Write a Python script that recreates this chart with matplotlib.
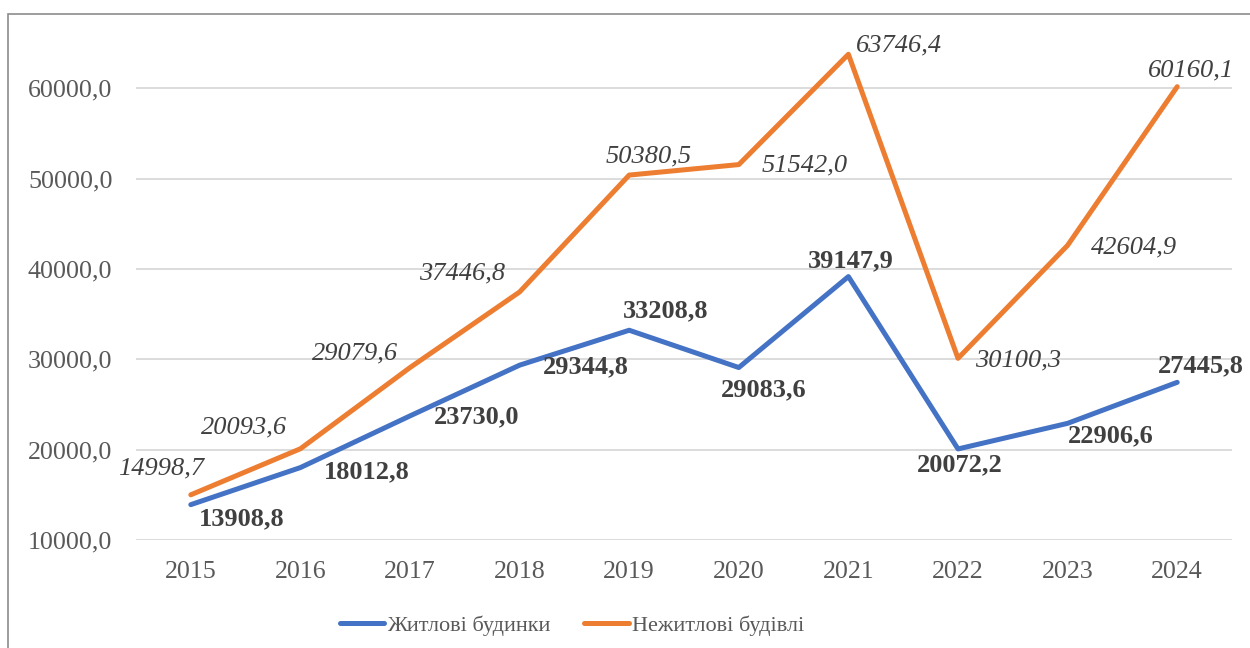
import matplotlib
matplotlib.use("Agg")
import matplotlib.pyplot as plt
from matplotlib.patches import Rectangle

# ── Data ─────────────────────────────────────────────────────────────────────

years = ["2015", "2016", "2017", "2018", "2019", "2020", "2021", "2022", "2023", "2024"]
residential = [13908.8, 18012.8, 23730.0, 29344.8, 33208.8, 29083.6, 39147.9, 20072.2, 22906.6, 27445.8]
nonresidential = [14998.7, 20093.6, 29079.6, 37446.8, 50380.5, 51542.0, 63746.4, 30100.3, 42604.9, 60160.1]
series_names = ["Житлові будинки", "Нежитлові будівлі"]
y_ticks = [10000, 20000, 30000, 40000, 50000, 60000]

# label offsets in pixels (dx, dy) relative to each point
res_offsets = [(51, -14), (66, -4), (67, -1), (66, -2), (36, 19), (25, -22), (2, 16), (2, -16), (43, -12), (24, 17)]
nonres_offsets = [(-30, 26), (-56, 21), (-55, 14), (-57, 18), (19, 19), (66, -1), (51, 9), (60, -2), (66, -2), (14, 16)]

BLUE = "#4472C4"
ORANGE = "#ED7D31"
GRAY = "#595959"
DARK = "#404040"

plt.rcParams["font.family"] = ["Liberation Serif", "DejaVu Serif"]


def fmt(v):
    return f"{v:.1f}".replace(".", ",")


fig = plt.figure(figsize=(12.5, 6.48), dpi=100)
ax = fig.add_axes([0.1088, 0.1667, 0.8768, 0.767])

x = list(range(len(years)))
ax.plot(x, residential, color=BLUE, lw=3.6, solid_capstyle="round", solid_joinstyle="round",
        label=series_names[0], zorder=3)
ax.plot(x, nonresidential, color=ORANGE, lw=3.6, solid_capstyle="round", solid_joinstyle="round",
        label=series_names[1], zorder=3)

for i, v in enumerate(residential):
    ax.annotate(fmt(v), (i, v), xytext=res_offsets[i], textcoords="offset pixels",
                ha="center", va="center", fontsize=19, fontweight="bold", color=DARK)
for i, v in enumerate(nonresidential):
    ax.annotate(fmt(v), (i, v), xytext=nonres_offsets[i], textcoords="offset pixels",
                ha="center", va="center", fontsize=19, fontstyle="italic", color=DARK)

ax.set_xlim(-0.5, len(years) - 0.5)
ax.set_ylim(10000, 65000)
ax.set_xticks(x)
ax.set_xticklabels(years)
ax.set_yticks(y_ticks)
ax.set_yticklabels([fmt(t) for t in y_ticks])
ax.tick_params(axis="both", length=0, labelsize=18.7, labelcolor=GRAY)
ax.tick_params(axis="x", pad=15)
ax.tick_params(axis="y", pad=17)
ax.grid(axis="y", color="#D9D9D9", lw=1.3)
ax.set_axisbelow(True)
for s in ax.spines.values():
    s.set_visible(False)

leg = fig.legend(loc="center", bbox_to_anchor=(572 / 1250, 1 - 626 / 648), ncol=2, frameon=False,
                 fontsize=16, handlelength=2.0, handletextpad=0.15, columnspacing=1.5)
for t in leg.get_texts():
    t.set_color(GRAY)

# chart border
fig.patches.append(Rectangle((8 / 1250, -0.1), 1.2, 1 - 14 / 648 + 0.1, transform=fig.transFigure,
                             fill=False, edgecolor="#8C8C8C", lw=1.2))

fig.savefig("out.png", dpi=100)
plt.close(fig)
